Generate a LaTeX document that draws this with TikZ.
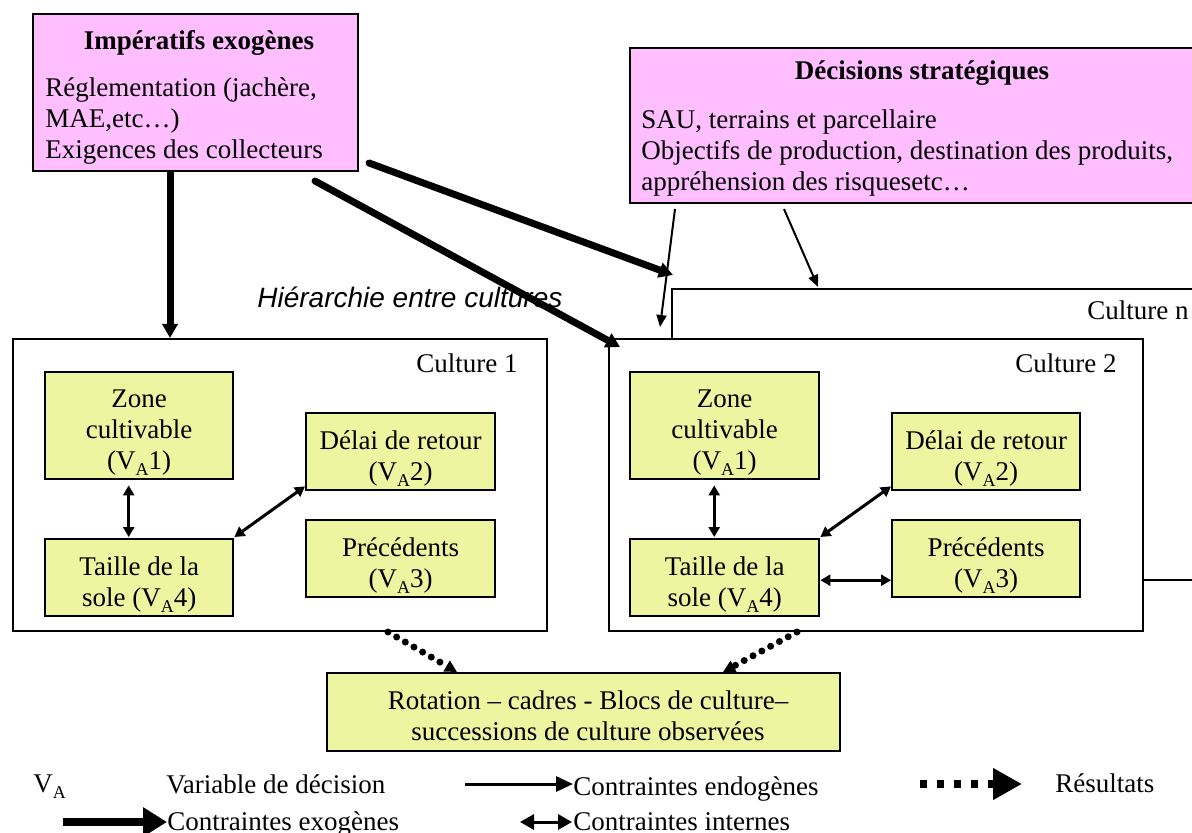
\documentclass[tikz,border=0pt]{standalone}
\usepackage{fontspec}
\setmainfont{Liberation Serif}
\newfontfamily\hsans{Liberation Sans}
\usetikzlibrary{arrows.meta,calc}
\definecolor{pinkfill}{RGB}{255,190,255}
\definecolor{greenfill}{RGB}{238,245,160}
\newcommand\subA{\raisebox{-3pt}{\fontsize{9}{9}\selectfont A}}
\newcommand\grst{\rule{0pt}{13pt}}
\tikzset{
  pinkbox/.style={draw, line width=1pt, fill=pinkfill, inner sep=0pt, anchor=north west},
  cbox/.style={draw, line width=1pt, fill=white, inner sep=0pt, anchor=north west},
  gbox/.style={draw, line width=1.2pt, fill=greenfill, inner sep=0pt, anchor=north west, align=center, text depth=0pt},
  exo/.style={line width=3.5pt, -{Triangle[length=7pt,width=7.5pt]}},
  endo/.style={line width=1pt, -{Triangle[length=6pt,width=5pt]}},
  intern/.style={line width=1.5pt, {Triangle[length=5pt,width=5.5pt]}-{Triangle[length=5pt,width=5.5pt]}},
  result/.style={line width=3.5pt, line cap=round, dash pattern=on 0pt off 5pt, -{Triangle[length=6pt,width=6pt]}},
  exoL/.style={line width=4pt, -{Triangle[length=12pt,width=14pt]}},
  endoL/.style={line width=1.5pt, -{Triangle[length=8.5pt,width=7.5pt]}},
  intL/.style={line width=1.5pt, {Triangle[length=7pt,width=7.5pt]}-{Triangle[length=7pt,width=7.5pt]}},
  resL/.style={line width=4pt, dash pattern=on 3.5pt off 5pt, -{Triangle[length=14.5pt,width=15pt]}},
  txt/.style={inner sep=0pt}
}
\begin{document}
\fontsize{13.5}{15.5}\selectfont
\begin{tikzpicture}[x=0.5pt,y=-0.5pt]
\useasboundingbox (0,0) rectangle (1192,833);
\clip (0,0) rectangle (1192,833);
\fill[white] (0,0) rectangle (1192,833);

% top boxes
\node[pinkbox, minimum width=162.5pt, minimum height=78.5pt] (imp) at (32,13) {};
\node[pinkbox, minimum width=290.5pt, minimum height=77.5pt] (dec) at (629,47) {};
\node[txt, font=\bfseries, anchor=base] (impT) at (199,50) {Impératifs exogènes};
\node[txt, anchor=base west, align=left] (impL) at (45,159) {Réglementation (jachère,\\MAE,etc…)\\Exigences des collecteurs};
\node[txt, font=\bfseries, anchor=base] (decT) at (922,80) {Décisions stratégiques};
\node[txt, anchor=base west, align=left] (decL) at (641,191) {SAU, terrains et parcellaire\\Objectifs de production, destination des produits,\\appréhension des risquesetc…};

% culture boxes
\node[cbox, minimum width=269.5pt, minimum height=145.5pt] (cn) at (671,288) {};
\node[cbox, minimum width=267pt, minimum height=146pt] (c1) at (12,338) {};
\node[cbox, minimum width=267pt, minimum height=146pt] (c2) at (608,338) {};
\node[txt, anchor=base west] (cnT) at (1087,320) {Culture n};
\node[txt, anchor=base east] (c1T) at (518,373) {Culture 1};
\node[txt, anchor=base east] (c2T) at (1117,373) {Culture 2};

\node[txt, font=\hsans\itshape\fontsize{14}{16}\selectfont, anchor=base west] (hier) at (257,308) {Hiérarchie entre cultures};

% culture 1 content
\node[gbox, minimum width=94pt, minimum height=53.5pt] (z1) at (44,371) {\grst Zone\\cultivable\\(V\subA1)};
\node[gbox, minimum width=94.5pt, minimum height=38.5pt] (d1) at (305,412) {\grst Délai de retour\\(V\subA2)};
\node[gbox, minimum width=94pt, minimum height=38.5pt] (t1) at (44,538) {\grst Taille de la\\sole (V\subA4)};
\node[gbox, minimum width=94.5pt, minimum height=38.5pt] (p1) at (305,519) {\grst Précédents\\(V\subA3)};
% culture 2 content
\node[gbox, minimum width=94.5pt, minimum height=53.5pt] (z2) at (629,371) {\grst Zone\\cultivable\\(V\subA1)};
\node[gbox, minimum width=94pt, minimum height=38.5pt] (d2) at (891,412) {\grst Délai de retour\\(V\subA2)};
\node[gbox, minimum width=94.5pt, minimum height=38.5pt] (t2) at (629,538) {\grst Taille de la\\sole (V\subA4)};
\node[gbox, minimum width=94pt, minimum height=38.5pt] (p2) at (891,519) {\grst Précédents\\(V\subA3)};

% internal arrows
\draw[intern] ($(z1.south)+(-10.5,5)$) -- ($(t1.north)+(-10.5,-1)$);
\draw[intern] ($(t1.north east)+(0,-1)$) -- ($(d1.south west)+(0,-5)$);
\draw[intern] ($(z2.south)+(-10.5,5)$) -- ($(t2.north)+(-10.5,-1)$);
\draw[intern] ($(t2.north east)+(0,-1)$) -- ($(d2.south west)+(0,-5)$);
\draw[intern] ($(t2.east)+(0,2.5)$) -- ($(t2.east -| p2.west)+(0,2.5)$);

% bottom box
\node[gbox, minimum width=256.5pt, minimum height=39pt] (bot) at (326,672) {};
\node[txt, anchor=base, align=center] (botT) at (588,740) {Rotation – cadres - Blocs de culture–\\successions de culture observées};

% exogenous arrows
\draw[exo] ($(imp.south west)+(138,0)$) -- ($(c1.north west)+(158,0)$);
\draw[exo, line cap=round] ($(imp.south east)+(10,-9)$) -- ($(cn.north west)+(2,-13)$);
\draw[exo, line cap=round] ($(imp.south west)+(283,9)$) -- ($(c2.north west)+(12,9)$);
% endogenous arrows
\draw[endo] ($(dec.south west)+(46,5)$) -- ($(c2.north west)+(52,-11)$);
\draw[endo] ($(dec.south west)+(155,5)$) -- ($(cn.north west)+(147,-1)$);
% results
\draw[result] ($(c1.south west)+(376,0)$) -- ($(bot.north west)+(131,0)$);
\draw[result] ($(c2.south west)+(189,0)$) -- ($(bot.north west)+(397,0)$);

% legend
\node[txt, anchor=base west] (lva) at (33,792) {V\subA};
\node[txt, anchor=base west] (lvar) at (166,793) {Variable de décision};
\coordinate (le1) at (465,784);
\coordinate (le2) at (573,784);
\draw[endoL] (le1) -- (le2);
\node[txt, anchor=base west] (lendo) at (573,795) {Contraintes endogènes};
\coordinate (lr1) at (920,784);
\coordinate (lr2) at (1022,784);
\draw[resL] (lr1) -- (lr2);
\node[txt, anchor=base west] (lres) at (1055,792) {Résultats};
\coordinate (lx1) at (63,822);
\coordinate (lx2) at (167,822);
\draw[exoL] (lx1) -- (lx2);
\node[txt, anchor=base west] (lexo) at (167,830) {Contraintes exogènes};
\coordinate (li1) at (520,822);
\coordinate (li2) at (572,822);
\draw[intL] (li1) -- (li2);
\node[txt, anchor=base west] (lint) at (573,830) {Contraintes internes};
\end{tikzpicture}
\end{document}
